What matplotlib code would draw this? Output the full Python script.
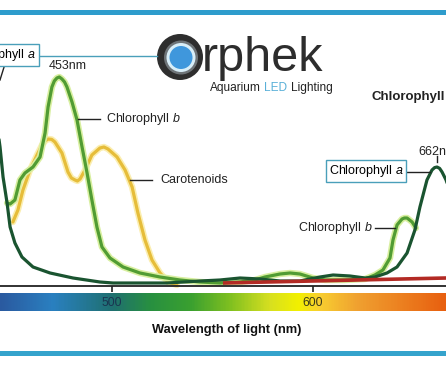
import matplotlib
matplotlib.use('Agg')
import matplotlib.pyplot as plt
from matplotlib.colors import LinearSegmentedColormap
from matplotlib.patches import Rectangle, Circle
import numpy as np

plt.rcParams['font.family'] = ['Liberation Sans', 'DejaVu Sans']
plt.rcParams['mathtext.fontset'] = 'custom'
plt.rcParams['mathtext.rm'] = 'Liberation Sans'
plt.rcParams['mathtext.it'] = 'Liberation Sans:italic'

# absorption curves: wavelength (nm) / relative absorbance
chl_a_nm = [442.8, 444.3, 445.8, 447.8, 449.3, 451.7, 455.2, 460.7, 469.2, 480.6,
            494.0, 500.5, 510.4, 527.4, 543.8, 553.7, 563.7, 573.6, 583.6, 593.5,
            603.5, 610.0, 618.4, 625.9, 630.8, 636.8, 641.8, 646.8, 650.7, 653.2,
            656.7, 659.2, 660.5, 661.7, 663.0, 664.2, 666.2, 668.2]
chl_a_abs = [0.805, 0.695, 0.545, 0.415, 0.295, 0.215, 0.145, 0.095, 0.065, 0.04,
             0.02, 0.015, 0.015, 0.015, 0.025, 0.03, 0.04, 0.035, 0.025, 0.025,
             0.045, 0.055, 0.05, 0.04, 0.045, 0.065, 0.095, 0.165, 0.28, 0.395,
             0.53, 0.58, 0.592, 0.595, 0.588, 0.57, 0.53, 0.47]

chl_b_nm = [447.8, 449.3, 451.7, 454.2, 456.7, 460.7, 464.2, 466.7, 468.2, 470.1,
            471.3, 472.6, 473.8, 475.1, 476.4, 477.6, 480.1, 482.6, 485.1, 487.6,
            490.0, 492.5, 495.0, 499.0, 505.5, 513.9, 523.9, 533.8, 543.8, 553.7,
            563.7, 571.1, 576.1, 583.6, 588.6, 593.5, 600.0, 606.0, 615.9, 625.9,
            630.8, 634.8, 638.3, 639.8, 641.8, 644.3, 645.5, 646.8, 649.3, 651.2]
chl_b_abs = [0.415, 0.41, 0.43, 0.53, 0.565, 0.595, 0.645, 0.765, 0.895, 0.995,
             1.025, 1.04, 1.045, 1.035, 1.02, 0.995, 0.92, 0.83, 0.695, 0.565,
             0.43, 0.295, 0.195, 0.14, 0.095, 0.065, 0.045, 0.03, 0.02, 0.015,
             0.02, 0.03, 0.045, 0.06, 0.065, 0.06, 0.04, 0.03, 0.03, 0.035,
             0.055, 0.08, 0.14, 0.23, 0.305, 0.335, 0.34, 0.34, 0.32, 0.29]

carot_nm = [450.7, 453.2, 455.7, 459.2, 462.7, 465.2, 466.7, 468.2, 470.0, 471.6,
            475.1, 478.1, 479.8, 481.6, 482.8, 484.1, 486.6, 490.0, 494.0, 496.0,
            498.0, 502.5, 506.5, 510.0, 512.9, 516.4, 519.9, 523.9, 527.9, 532.3]
carot_abs = [0.32, 0.38, 0.48, 0.58, 0.655, 0.705, 0.725, 0.735, 0.733, 0.72,
             0.665, 0.57, 0.54, 0.53, 0.525, 0.535, 0.58, 0.655, 0.69, 0.695,
             0.685, 0.645, 0.58, 0.495, 0.365, 0.23, 0.13, 0.065, 0.02, 0.005]

red_nm = [555.2, 666.2]
red_abs = [0.015, 0.04]

tick_nm = [500, 600]
tick_labels = ['500', '600']

# spectrum bar colours
spec_nm = [444, 470, 500, 519, 539, 559, 579, 593, 603, 623, 666]
spec_col = ['#2a5aa0', '#2a80c0', '#1f7070', '#289040', '#3aa030', '#80c020',
            '#d8e020', '#f2f000', '#f8d030', '#f0a030', '#e86010']

W, H = 446, 371
X0, X1 = 444.28, 666.17

fig = plt.figure(figsize=(W / 100, H / 100), dpi=100)

# main plot, bottom edge = wavelength axis line (pixel row 286)
ax = fig.add_axes([0, 1 - 286 / H, 1, 286 / H])
ax.set_xlim(X0, X1)
ax.set_ylim(0, 1.43)
ax.set_zorder(3)
ax.patch.set_visible(False)
for s in ['top', 'left', 'right']:
    ax.spines[s].set_visible(False)
ax.spines['bottom'].set_linewidth(1.3)
ax.spines['bottom'].set_color('#222222')
ax.set_yticks([])
ax.set_xticks(tick_nm)
ax.set_xticklabels(tick_labels, fontsize=8.8)
ax.tick_params(axis='x', direction='out', length=4.5, width=1.3, color='#333333', pad=3.5)
for lab, c in zip(ax.get_xticklabels(), ['#1a3550', '#3a3a1a']):
    lab.set_color(c)

kw = dict(solid_capstyle='round', solid_joinstyle='round', clip_on=False)
ax.plot(carot_nm, carot_abs, color='#fbeeb0', lw=4.6, **kw)
ax.plot(carot_nm, carot_abs, color='#e6bd3a', lw=2.3, **kw)
ax.plot(chl_b_nm, chl_b_abs, color='#d8efa0', lw=4.6, **kw)
ax.plot(chl_b_nm, chl_b_abs, color='#519c33', lw=2.3, **kw)
ax.plot(chl_a_nm, chl_a_abs, color='#1a5430', lw=2.3, **kw)
ax.plot(red_nm, red_abs, color='#b32a24', lw=2.6, solid_capstyle='butt', clip_on=False)

# spectrum bar
cmap = LinearSegmentedColormap.from_list(
    'spec', [((n - X0) / (X1 - X0), c) for n, c in
             zip([X0] + spec_nm[1:-1] + [X1], spec_col)])
bar = fig.add_axes([0, 1 - 311 / H, 1, 18 / H])
bar.imshow(np.linspace(0, 1, 400)[None, :], cmap=cmap, aspect='auto',
           extent=[X0, X1, 0, 1])
bar.set_axis_off()

# overlay in pixel coordinates for labels and logo
deco = fig.add_axes([0, 0, 1, 1])
deco.set_xlim(0, W)
deco.set_ylim(H, 0)
deco.set_axis_off()
deco.set_zorder(5)

deco.add_patch(Rectangle((0, 10), W, 5, color='#2e9ccc', lw=0))
deco.add_patch(Rectangle((0, 351), W, 5, color='#35a3cc', lw=0))

# logo
deco.add_patch(Circle((180, 57), 23, color='#2e2e2e', lw=0))
deco.add_patch(Circle((181, 57.5), 17, color='#6e7478', lw=0))
deco.add_patch(Circle((181, 57.5), 14.5, color='#d8eef8', lw=0))
deco.add_patch(Circle((181, 57.5), 11.5, color='#3f97dc', lw=0))
deco.text(202, 71, 'rphek', fontsize=35, color='#2d2d2d', va='baseline', ha='left')

fig.canvas.draw()
r = fig.canvas.get_renderer()
t1 = deco.text(210, 91, 'Aquarium', fontsize=8.6, color='#222222', va='baseline')
x = t1.get_window_extent(r).x1 + 3.3
t2 = deco.text(x, 91, 'LED', fontsize=8.6, color='#5ab0d8', va='baseline')
x = t2.get_window_extent(r).x1 + 3.3
deco.text(x, 91, 'Lighting', fontsize=8.6, color='#222222', va='baseline')

# annotations
box = dict(boxstyle='square,pad=0.25', fc='white', ec='#4a9fba', lw=1)
deco.text(36, 55, 'Chlorophyll $a$', fontsize=9, ha='right', va='center', bbox=box)
deco.plot([40, 157], [56, 56], color='#4a9fba', lw=1)
deco.plot([5, 0], [64, 80], color='#222222', lw=1)

deco.text(68, 66, '453nm', fontsize=9, ha='center', va='center', color='#222222')
deco.plot([78, 100], [119, 119], color='#222222', lw=1)
deco.text(106, 119, 'Chlorophyll $b$', fontsize=9, ha='left', va='center', color='#222222')
deco.plot([130, 152], [180, 180], color='#222222', lw=1)
deco.text(160, 180, 'Carotenoids', fontsize=9, ha='left', va='center', color='#222222')

deco.text(371, 97, 'Chlorophyll', fontsize=9.5, fontweight='bold', ha='left',
          va='center', color='#222222')

deco.text(418, 152, '662nm', fontsize=9, ha='left', va='center', color='#222222')
deco.plot([437, 437], [156, 162], color='#222222', lw=1)
deco.text(366, 171, 'Chlorophyll $a$', fontsize=9, ha='center', va='center', bbox=box)
deco.plot([407, 430], [172, 172], color='#222222', lw=1)
deco.plot([375, 395], [228, 228], color='#222222', lw=1)
deco.text(298, 228, 'Chlorophyll $b$', fontsize=9, ha='left', va='center', color='#222222')

deco.text(227, 330, 'Wavelength of light (nm)', fontsize=9.3, fontweight='bold',
          ha='center', va='center', color='#111111')

fig.savefig('out.png', dpi=100)
